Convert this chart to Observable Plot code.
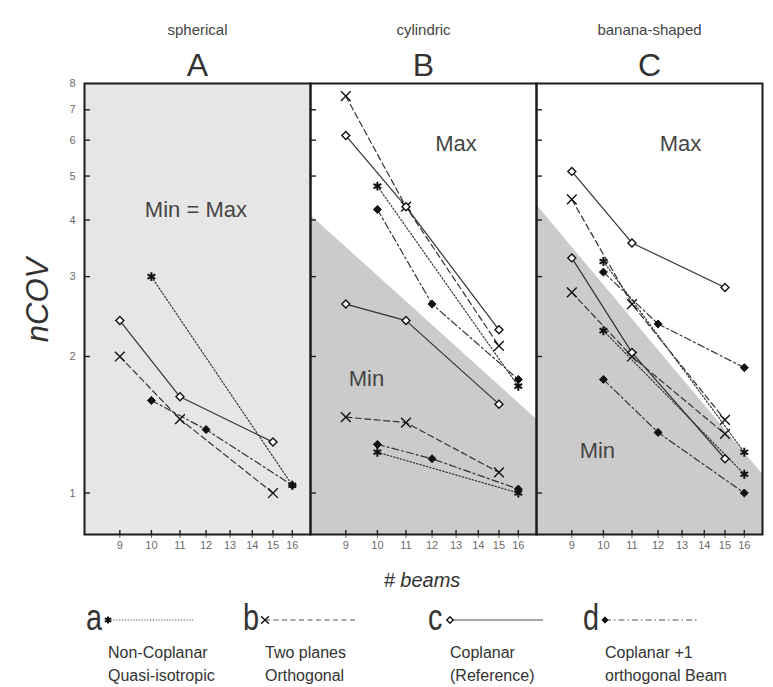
<!DOCTYPE html>
<html>
<head>
<meta charset="utf-8">
<script src="https://cdn.jsdelivr.net/npm/d3@7"></script>
<script src="https://cdn.jsdelivr.net/npm/@observablehq/plot@0.6"></script>
<style>
  body { margin: 0; background: white; }
  #wrap { position: relative; width: 773px; height: 687px; font-family: "Liberation Sans", Arial, sans-serif; color: #333; overflow: hidden; }
  .abs { position: absolute; white-space: nowrap; }
</style>
</head>
<body>
<div id="wrap"></div>
<script>
// ---------- data ----------
const panels = ["A", "B", "C"];
const panelShapes = ["spherical", "cylindric", "banana-shaped"];
const xTicks = [9, 10, 11, 12, 13, 14, 15, 16];
const yTicks = [1, 2, 3, 4, 5, 6, 7, 8];

// number of beams used by each technique
const beamsNonCoplanar = [10, 16];     // a
const beamsTwoPlanes = [9, 11, 15];    // b
const beamsCoplanar = [9, 11, 15];     // c
const beamsCoplanarPlus = [10, 12, 16]; // d

// A: spherical (Min = Max)
const sphA = [3.0, 1.04];
const sphB = [2.0, 1.455, 1.0];
const sphC = [2.40, 1.63, 1.295];
const sphD = [1.60, 1.38, 1.04];
// B: cylindric, Max
const cylMaxA = [4.75, 1.72];
const cylMaxB = [7.5, 4.28, 2.11];
const cylMaxC = [6.14, 4.28, 2.29];
const cylMaxD = [4.22, 2.61, 1.78];
// B: cylindric, Min
const cylMinA = [1.23, 1.0];
const cylMinB = [1.47, 1.43, 1.11];
const cylMinC = [2.61, 2.40, 1.57];
const cylMinD = [1.28, 1.19, 1.02];
// C: banana-shaped, Max
const banMaxA = [3.24, 1.23];
const banMaxB = [4.44, 2.61, 1.45];
const banMaxC = [5.12, 3.56, 2.84];
const banMaxD = [3.07, 2.36, 1.89];
// C: banana-shaped, Min
const banMinA = [2.28, 1.10];
const banMinB = [2.77, 2.0, 1.35];
const banMinC = [3.30, 2.04, 1.19];
const banMinD = [1.78, 1.36, 1.0];

// shaded "Min" regions (boundary value at the left and right edge of the panel)
const regionEdgesX = [8, 17];
const regionSpherical = [8, 8];
const regionCylindric = [4.10, 1.454];
const regionBanana = [4.32, 1.10];

// annotations
const annoPanel = ["A", "B", "B", "C", "C"];
const annoText = ["Min = Max", "Max", "Min", "Max", "Min"];
const annoX = [11.6, 13.0, 9.64, 12.93, 9.8];
const annoY = [4.21, 5.88, 1.78, 5.88, 1.24];

// legend
const legendKeys = ["a", "b", "c", "d"];
const legendLine1 = ["Non-Coplanar", "Two planes", "Coplanar", "Coplanar +1"];
const legendLine2 = ["Quasi-isotropic", "Orthogonal", "(Reference)", "orthogonal Beam"];

// ---------- build tables ----------
const beamsBySeries = {a: beamsNonCoplanar, b: beamsTwoPlanes, c: beamsCoplanar, d: beamsCoplanarPlus};
const curveDefs = [
  ["A", "one", "a", sphA], ["A", "one", "b", sphB], ["A", "one", "c", sphC], ["A", "one", "d", sphD],
  ["B", "max", "a", cylMaxA], ["B", "max", "b", cylMaxB], ["B", "max", "c", cylMaxC], ["B", "max", "d", cylMaxD],
  ["B", "min", "a", cylMinA], ["B", "min", "b", cylMinB], ["B", "min", "c", cylMinC], ["B", "min", "d", cylMinD],
  ["C", "max", "a", banMaxA], ["C", "max", "b", banMaxB], ["C", "max", "c", banMaxC], ["C", "max", "d", banMaxD],
  ["C", "min", "a", banMinA], ["C", "min", "b", banMinB], ["C", "min", "c", banMinC], ["C", "min", "d", banMinD]
];
const rows = [];
for (const [panel, group, series, vals] of curveDefs) {
  vals.forEach((v, i) => rows.push({panel, group, series, key: panel + group + series, beams: beamsBySeries[series][i], value: v}));
}
const regionRows = [];
[["A", regionSpherical, "#e6e6e6"], ["B", regionCylindric, "#cbcbcb"], ["C", regionBanana, "#cbcbcb"]].forEach(([panel, ys, fill]) => {
  regionEdgesX.forEach((x, i) => regionRows.push({panel, x, top: ys[i], fill}));
});
const titleRows = panels.map((p, i) => ({panel: p, letter: p, shape: panelShapes[i]}));
const annoRows = annoText.map((t, i) => ({panel: annoPanel[i], text: t, x: annoX[i], y: annoY[i]}));

const styles = {
  a: {dash: "1.4,2", symbol: "asterisk", fill: "none", stroke: "#111", r: 4.2, sw: 2},
  b: {dash: "6,3.5", symbol: "times", fill: "none", stroke: "#111", r: 4.5, sw: 1.4},
  c: {dash: null, symbol: "diamond2", fill: "white", stroke: "#111", r: 3.6, sw: 1.4},
  d: {dash: "7,3,2,3", symbol: "diamond2", fill: "#111", stroke: "#111", r: 3.6, sw: 1}
};

const lineMarks = [];
const dotMarks = [];
for (const s of legendKeys) {
  const st = styles[s];
  const data = rows.filter(d => d.series === s);
  lineMarks.push(Plot.line(data, {x: "beams", y: "value", z: "key", fx: "panel", stroke: "#333", strokeWidth: 1.2, strokeDasharray: st.dash}));
  dotMarks.push(Plot.dot(data, {x: "beams", y: "value", fx: "panel", symbol: () => st.symbol, r: st.r, fill: st.fill, stroke: st.stroke, strokeWidth: st.sw}));
}

const chart = Plot.plot({
  width: 773,
  height: 560,
  marginLeft: 83,
  marginRight: 11,
  marginTop: 83,
  marginBottom: 26,
  style: {fontFamily: "Liberation Sans, Arial, sans-serif", color: "#6a6a6a", background: "white", fontSize: "11px"},
  fx: {domain: panels, padding: 0, axis: null, label: null},
  x: {type: "log", domain: [8, 17], ticks: xTicks, tickFormat: d => String(d), tickSize: 4, tickPadding: 3, label: null},
  y: {type: "log", domain: [0.81, 8], ticks: yTicks, tickFormat: d => String(d), tickSize: 0, tickPadding: 9, label: null},
  symbol: {type: "identity"},
  marks: [
    Plot.areaY(regionRows, {x: "x", y1: 0.81, y2: "top", z: "panel", fx: "panel", fill: "fill", curve: "linear"}),
    Plot.tickY(yTicks.filter(v => v < 8), {y: d => d, stroke: "#222", strokeWidth: 1.4, insetRight: 220}),
    Plot.tickX(xTicks, {x: d => d, stroke: "#222", strokeWidth: 1.4, insetTop: 447}),
    ...lineMarks,
    ...dotMarks,
    Plot.frame({stroke: "#1a1a1a", strokeWidth: 2}),
    Plot.text(annoRows, {fx: "panel", x: "x", y: "y", text: "text", fontSize: 22, fill: "#444"}),
    Plot.text(titleRows, {fx: "panel", frameAnchor: "top", lineAnchor: "middle", text: "letter", dy: -18, fontSize: 32, fill: "#333"}),
    Plot.text(titleRows, {fx: "panel", frameAnchor: "top", lineAnchor: "middle", text: "shape", dy: -53, fontSize: 15, fill: "#444"})
  ]
});

const wrap = document.getElementById("wrap");
wrap.appendChild(chart);

// y label
const ylab = document.createElement("div");
ylab.className = "abs";
ylab.textContent = "nCOV";
ylab.style.cssText += "left:38px;top:300px;transform:translate(-50%,-50%) rotate(-90deg);font-size:31px;font-style:italic;color:#333;";
wrap.appendChild(ylab);

// x label
const xlab = document.createElement("div");
xlab.className = "abs";
xlab.textContent = "# beams";
xlab.style.cssText += "left:422px;top:580px;transform:translate(-50%,-50%);font-size:20px;font-style:italic;color:#333;";
wrap.appendChild(xlab);

// legend
const legendLeft = [86, 243, 428, 583];
const legendLineLen = [86, 92, 93, 93];
legendKeys.forEach((k, i) => {
  const st = styles[k];
  const L = legendLeft[i];
  const letter = document.createElement("div");
  letter.className = "abs";
  letter.textContent = k;
  letter.style.cssText += `left:${L}px;top:620px;transform-origin:0 0;transform:scaleX(0.78) translateY(-58%);font-size:37px;color:#333;line-height:1;`;
  wrap.appendChild(letter);

  const svg = d3.create("svg").attr("width", 100).attr("height", 14)
    .style("position", "absolute").style("left", (L + 17) + "px").style("top", "613px");
  const line = svg.append("line").attr("x1", 5).attr("x2", 5 + legendLineLen[i]).attr("y1", 7).attr("y2", 7)
    .attr("stroke", "#555").attr("stroke-width", 1.1);
  if (st.dash) line.attr("stroke-dasharray", k === "a" ? "1.2,1.6" : k === "b" ? "5,3.5" : "6,3,1.5,3");
  const sym = {asterisk: d3.symbolAsterisk, times: d3.symbolTimes, diamond2: d3.symbolDiamond2}[st.symbol];
  const rr = st.r * 0.8;
  svg.append("path").attr("transform", "translate(5,7)").attr("d", d3.symbol(sym, rr * rr * Math.PI)())
    .attr("fill", st.fill).attr("stroke", st.stroke).attr("stroke-width", st.sw);
  wrap.appendChild(svg.node());

  const txt = document.createElement("div");
  txt.className = "abs";
  txt.innerHTML = legendLine1[i] + "<br>" + legendLine2[i];
  txt.style.cssText += `left:${L + 22}px;top:641px;font-size:16px;line-height:23px;color:#333;`;
  wrap.appendChild(txt);
});
</script>
</body>
</html>
